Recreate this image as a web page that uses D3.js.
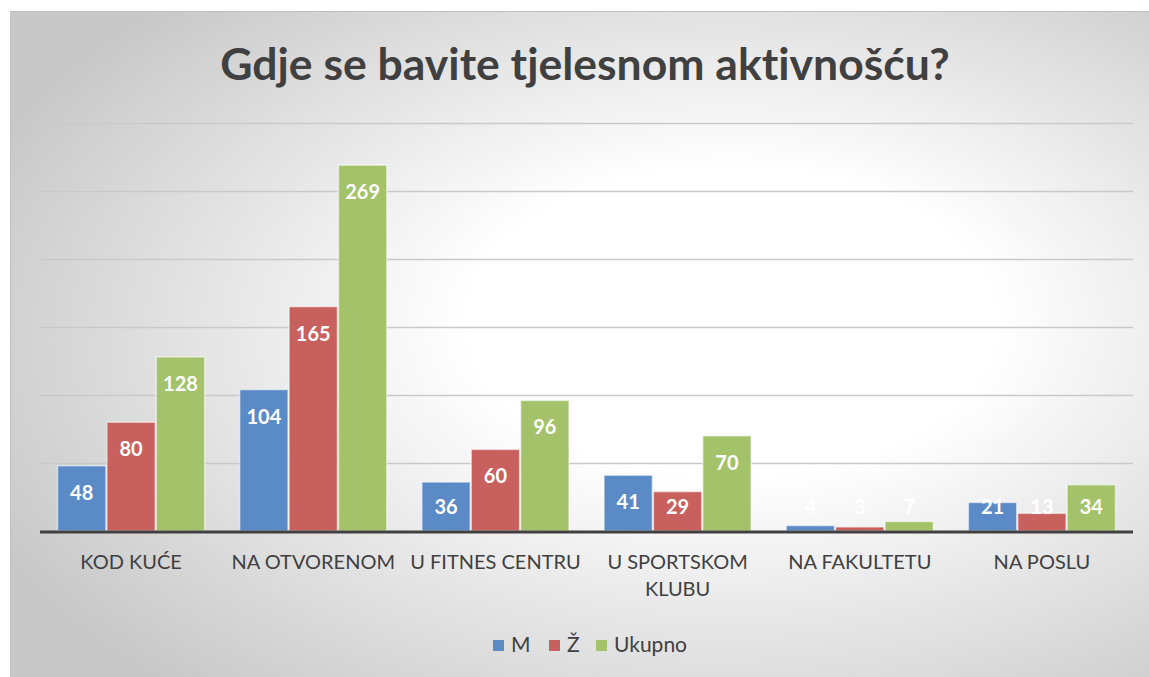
<!DOCTYPE html>
<html>
<head>
<meta charset="utf-8">
<script src="https://cdn.jsdelivr.net/npm/d3@7"></script>
<style>
  html, body { margin: 0; padding: 0; background: #fff; }
  svg { display: block; font-family: Lato, "Open Sans", sans-serif; font-variant-ligatures: none; }
</style>
</head>
<body>
<svg id="chart" width="1149" height="677"></svg>
<script>
const title = "Gdje se bavite tjelesnom aktivnošću?";
const categories = ["KOD KUĆE", "NA OTVORENOM", "U FITNES CENTRU", "U SPORTSKOM KLUBU", "NA FAKULTETU", "NA POSLU"];
// label lines as they wrap in the picture
const categoryLines = [["KOD KUĆE"], ["NA OTVORENOM"], ["U FITNES CENTRU"], ["U SPORTSKOM", "KLUBU"], ["NA FAKULTETU"], ["NA POSLU"]];
const seriesNames = ["M", "Ž", "Ukupno"];
const valuesM = [48, 104, 36, 41, 4, 21];
const valuesZ = [80, 165, 60, 29, 3, 13];
const valuesUkupno = [128, 269, 96, 70, 7, 34];
const yTicks = [0, 50, 100, 150, 200, 250, 300];

const colors = ["#5b8bc7", "#c8605d", "#a3c26a"];
const seriesValues = [valuesM, valuesZ, valuesUkupno];

const svg = d3.select("#chart");

// background box with radial gradient
const defs = svg.append("defs");
const grad = defs.append("radialGradient")
  .attr("id", "bg")
  .attr("cx", 0.62).attr("cy", 0.5).attr("r", 0.7)
  .attr("fx", 0.64).attr("fy", 0.45);
grad.append("stop").attr("offset", "0%").attr("stop-color", "#ffffff");
grad.append("stop").attr("offset", "33%").attr("stop-color", "#ffffff");
grad.append("stop").attr("offset", "100%").attr("stop-color", "#c8c8c8");

svg.append("rect")
  .attr("x", 10).attr("y", 11)
  .attr("width", 1139).attr("height", 666)
  .attr("fill", "url(#bg)");
svg.append("line")
  .attr("x1", 10).attr("x2", 1149).attr("y1", 11.5).attr("y2", 11.5)
  .attr("stroke", "#c0c0c0").attr("stroke-width", 1);
svg.append("line")
  .attr("x1", 10.5).attr("x2", 10.5).attr("y1", 11).attr("y2", 677)
  .attr("stroke", "#c0c0c0").attr("stroke-width", 1);

// dims
const plot = { left: 40, right: 1133, top: 123, bottom: 531 };

const x0 = d3.scaleBand().domain(categories).range([plot.left, plot.right]).padding(0);
const groupPad = 17;
const x1 = d3.scaleBand().domain(seriesNames).range([groupPad, x0.bandwidth() - groupPad]).padding(0);
const y = d3.scaleLinear().domain([0, 300]).range([plot.bottom, plot.top]);

// gridlines
svg.append("g")
  .selectAll("line")
  .data(yTicks.slice(1))
  .join("line")
  .attr("x1", plot.left).attr("x2", plot.right)
  .attr("y1", d => Math.round(y(d)) + 0.5)
  .attr("y2", d => Math.round(y(d)) + 0.5)
  .attr("stroke", "#c9c9c9")
  .attr("stroke-width", 1.5);

// bars
const groups = svg.append("g")
  .selectAll("g")
  .data(categories)
  .join("g")
  .attr("transform", d => `translate(${x0(d)},0)`);

groups.selectAll("rect")
  .data((c, ci) => seriesNames.map((s, si) => ({ s, si, v: seriesValues[si][ci] })))
  .join("rect")
  .attr("x", d => x1(d.s) + 0.5)
  .attr("width", x1.bandwidth() - 1)
  .attr("y", d => y(d.v))
  .attr("height", d => y(0) - y(d.v))
  .attr("fill", d => colors[d.si])
  .attr("stroke", "rgba(255,255,255,0.55)")
  .attr("stroke-width", 1.5);

// value labels
groups.selectAll("text")
  .data((c, ci) => seriesNames.map((s, si) => ({ s, si, v: seriesValues[si][ci] })))
  .join("text")
  .attr("x", d => x1(d.s) + x1.bandwidth() / 2)
  .attr("y", d => Math.min(y(d.v) + 34, y(0) - 17))
  .attr("text-anchor", "middle")
  .attr("fill", "#ffffff")
  .style("font-size", "20px")
  .style("font-weight", "bold")
  .text(d => d.v);

// baseline
svg.append("line")
  .attr("x1", plot.left).attr("x2", plot.right)
  .attr("y1", y(0) + 1).attr("y2", y(0) + 1)
  .attr("stroke", "#404040")
  .attr("stroke-width", 3);

// category labels
const catText = svg.append("g")
  .selectAll("text")
  .data(categories)
  .join("text")
  .attr("x", d => x0(d) + x0.bandwidth() / 2)
  .attr("y", 569)
  .attr("text-anchor", "middle")
  .attr("fill", "#404040")
  .style("font-size", "20px");
catText.each(function (d, i) {
  d3.select(this).selectAll("tspan")
    .data(categoryLines[i])
    .join("tspan")
    .attr("x", x0(d) + x0.bandwidth() / 2)
    .attr("dy", (l, j) => j === 0 ? 0 : 27)
    .text(l => l);
});

// title
const titleEl = svg.append("text")
  .attr("x", 585)
  .attr("y", 80)
  .attr("text-anchor", "middle")
  .attr("fill", "#404040")
  .style("font-size", "40px")
  .style("font-weight", "bold")
  .text(title);
const tw = titleEl.node().getComputedTextLength();
titleEl.style("font-size", (40 * 730 / tw).toFixed(1) + "px");

// legend
const legendItems = [
  { name: "M", x: 493 },
  { name: "Ž", x: 549 },
  { name: "Ukupno", x: 596 }
];
const legend = svg.append("g");
legendItems.forEach((d, i) => {
  legend.append("rect")
    .attr("x", d.x).attr("y", 640)
    .attr("width", 11).attr("height", 11)
    .attr("fill", colors[i]);
  legend.append("text")
    .attr("x", d.x + 18).attr("y", 652)
    .attr("fill", "#404040")
    .style("font-size", "21px")
    .text(d.name);
});
</script>
</body>
</html>
